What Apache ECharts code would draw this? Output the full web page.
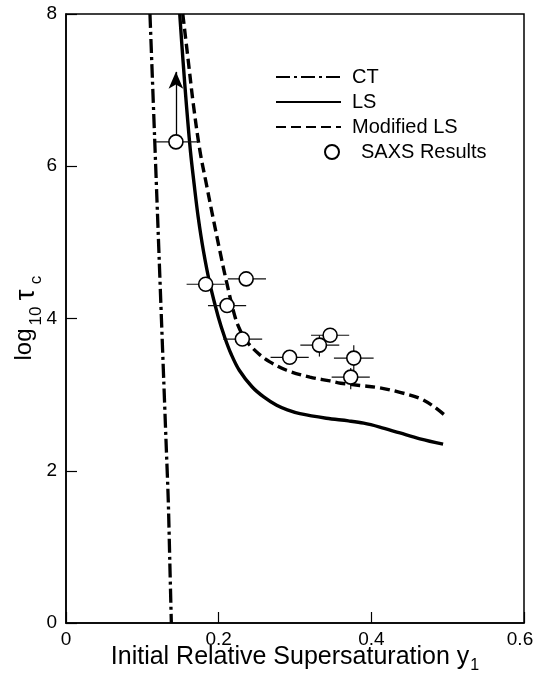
<!DOCTYPE html>
<html>
<head>
<meta charset="utf-8">
<script src="https://cdn.jsdelivr.net/npm/echarts@6/dist/echarts.min.js"></script>
<style>
html,body{margin:0;padding:0;background:#fff;}
#c{width:534px;height:674px;}
</style>
</head>
<body>
<div id="c"></div>
<script>
// ---- data ----
const xTicks = [0, 0.2, 0.4, 0.6];
const yTicks = [0, 2, 4, 6, 8];

const ctX = [0.110, 0.113, 0.116, 0.119, 0.122, 0.125, 0.128, 0.131, 0.134, 0.136, 0.138];
const ctY = [8.0, 7.2, 6.4, 5.6, 4.8, 4.0, 3.2, 2.4, 1.6, 0.8, 0.0];

const lsX = [0.149, 0.1532, 0.1578, 0.163, 0.1678, 0.1732, 0.1800, 0.1886, 0.1995, 0.2080, 0.2160, 0.2270, 0.2440, 0.2590, 0.2760, 0.2900, 0.3065, 0.341, 0.370, 0.390, 0.411, 0.4375, 0.4637, 0.494];
const lsY = [8.0, 7.4, 6.8, 6.2, 5.77, 5.33, 4.89, 4.45, 4.02, 3.75, 3.54, 3.32, 3.10, 2.97, 2.86, 2.80, 2.75, 2.69, 2.655, 2.625, 2.574, 2.496, 2.42, 2.35];

const modX = [0.153, 0.160, 0.167, 0.1755, 0.1838, 0.1925, 0.2015, 0.2110, 0.2215, 0.228, 0.2367, 0.252, 0.267, 0.289, 0.3196, 0.3458, 0.360, 0.385, 0.411, 0.4375, 0.4637, 0.481, 0.495];
const modY = [8.0, 7.4, 6.8, 6.2, 5.77, 5.33, 4.89, 4.45, 4.02, 3.85, 3.70, 3.54, 3.43, 3.32, 3.23, 3.18, 3.15, 3.12, 3.09, 3.03, 2.95, 2.85, 2.74];

const saxsX = [0.144, 0.183, 0.236, 0.211, 0.231, 0.293, 0.332, 0.346, 0.377, 0.373];
const saxsY = [6.32, 4.45, 4.52, 4.17, 3.73, 3.49, 3.65, 3.78, 3.48, 3.23];
const saxsXLow = [0.118, 0.158, 0.212, 0.186, 0.206, 0.268, 0.307, 0.321, 0.351, 0.348];
const saxsXHigh = [0.173, 0.208, 0.262, 0.236, 0.257, 0.318, 0.358, 0.371, 0.403, 0.398];
const saxsYLow = [null, null, null, null, null, null, 3.50, null, 3.32, 3.07];
const saxsYHigh = [null, null, null, null, null, null, 3.78, null, 3.65, 3.35];

const arrowX = 0.144;
const arrowY = [6.41, 7.24];

const seriesNames = ['CT', 'LS', 'Modified LS', 'SAXS Results'];

// ---- build ----
const zip = (a, b) => a.map((v, i) => [v, b[i]]);
const errData = saxsX.map((x, i) => [x, saxsY[i], saxsXLow[i], saxsXHigh[i],
  saxsYLow[i] == null ? NaN : saxsYLow[i], saxsYHigh[i] == null ? NaN : saxsYHigh[i]]);

const FONT = '"Liberation Sans", Arial, Helvetica, sans-serif';
const chart = echarts.init(document.getElementById('c'), null, {renderer: 'canvas'});
const xMax = xTicks[xTicks.length - 1];

const option = {
  backgroundColor: '#fff',
  animation: false,
  textStyle: {fontFamily: FONT, color: '#000'},
  grid: {left: 66, right: 10, top: 14, bottom: 51, show: true, containLabel: false, outerBoundsMode: 'none',
    borderColor: '#000', borderWidth: 1.5, backgroundColor: 'transparent'},
  legend: [{
    data: seriesNames.slice(0, 3),
    orient: 'vertical',
    left: 275, top: 67, padding: 0,
    itemWidth: 65, itemHeight: 14, itemGap: 5,
    itemStyle: {opacity: 0},
    textStyle: {fontSize: 20, color: '#000', fontFamily: FONT, lineHeight: 20, padding: [0, 0, 0, 6]},
    selectedMode: false
  }, {
    data: [seriesNames[3]],
    orient: 'vertical',
    left: 324, top: 142, padding: 0,
    itemWidth: 14, itemHeight: 14,
    textStyle: {fontSize: 20, color: '#000', fontFamily: FONT, lineHeight: 20, padding: [0, 0, 0, 17]},
    selectedMode: false
  }],
  xAxis: {
    type: 'value', min: xTicks[0], max: xMax, interval: 0.2,
    axisLine: {show: true, lineStyle: {color: '#000', width: 1.5}},
    axisTick: {show: true, inside: true, length: 11, lineStyle: {color: '#000', width: 1.2}},
    axisLabel: {fontSize: 19, color: '#000', fontFamily: FONT, margin: 7,
      formatter: v => (v === 0 ? '0' : (Math.abs(v - xMax) < 1e-9 ? '{r|' + v.toFixed(1) + '}' : v.toFixed(1))),
      rich: {r: {fontSize: 19, color: '#000', fontFamily: FONT, padding: [0, 8, 0, 0]}}},
    splitLine: {show: false},
    name: '{m|Initial Relative Supersaturation y}{s|1}',
    nameLocation: 'middle', nameGap: 22, nameMoveOverlap: false,
    nameTextStyle: {fontSize: 25, color: '#000', fontFamily: FONT,
      rich: {
        m: {fontSize: 25, fontFamily: FONT, color: '#000', lineHeight: 26, verticalAlign: 'top'},
        s: {fontSize: 16, fontFamily: FONT, color: '#000', lineHeight: 29, verticalAlign: 'bottom', padding: [0, 0, 0, 1]}
      }}
  },
  yAxis: {
    type: 'value', min: yTicks[0], max: yTicks[yTicks.length - 1], interval: 2,
    axisLine: {show: true, lineStyle: {color: '#000', width: 1.5}},
    axisTick: {show: true, inside: true, length: 11, lineStyle: {color: '#000', width: 1.2}},
    axisLabel: {fontSize: 19, color: '#000', fontFamily: FONT, margin: 9,
      formatter: v => String(v)},
    splitLine: {show: false},
    name: '{a|log}{s|10}{t|τ}{c|c}',
    nameLocation: 'middle', nameGap: 21, nameRotate: 90, nameMoveOverlap: false,
    nameTextStyle: {fontSize: 24, color: '#000', fontFamily: FONT,
      rich: {
        a: {fontSize: 24, fontFamily: FONT, color: '#000', lineHeight: 24, verticalAlign: 'top', width: 35},
        t: {fontSize: 28, fontFamily: FONT, color: '#000', lineHeight: 24, verticalAlign: 'top', width: 20, align: 'center'},
        s: {fontSize: 17, fontFamily: FONT, color: '#000', lineHeight: 33, verticalAlign: 'bottom', width: 22},
        c: {fontSize: 17, fontFamily: FONT, color: '#000', lineHeight: 33, verticalAlign: 'bottom', width: 10}
      }}
  },
  series: [
    {
      name: 'CT', type: 'line', data: zip(ctX, ctY), symbol: 'none', smooth: 0.3,
      lineStyle: {color: '#000', width: 3.3, type: [14, 4, 3, 4]}, itemStyle: {color: '#000'}, z: 2
    },
    {
      name: 'LS', type: 'line', data: zip(lsX, lsY), symbol: 'none', smooth: 0.35,
      lineStyle: {color: '#000', width: 3.4, type: 'solid'}, itemStyle: {color: '#000'}, z: 2
    },
    {
      name: 'Modified LS', type: 'line', data: zip(modX, modY), symbol: 'none', smooth: 0.35,
      lineStyle: {color: '#000', width: 3.4, type: [10, 5]}, itemStyle: {color: '#000'}, z: 2
    },
    {
      name: 'errbars', type: 'custom', data: errData, z: 3, silent: true,
      renderItem: function (params, api) {
        const y = api.value(1);
        const p1 = api.coord([api.value(2), y]);
        const p2 = api.coord([api.value(3), y]);
        const children = [{type: 'line', shape: {x1: p1[0], y1: p1[1], x2: p2[0], y2: p2[1]},
          style: {stroke: '#111', lineWidth: 1.2}}];
        const yl = api.value(4), yh = api.value(5);
        if (!isNaN(yl) && !isNaN(yh)) {
          const q1 = api.coord([api.value(0), yl]);
          const q2 = api.coord([api.value(0), yh]);
          children.push({type: 'line', shape: {x1: q1[0], y1: q1[1], x2: q2[0], y2: q2[1]},
            style: {stroke: '#111', lineWidth: 1.2}});
        }
        return {type: 'group', children: children};
      }
    },
    {
      name: 'SAXS Results', type: 'scatter', data: zip(saxsX, saxsY), symbol: 'circle', symbolSize: 14, z: 5,
      itemStyle: {color: '#fff', borderColor: '#000', borderWidth: 1.6, opacity: 1},
      markLine: {
        silent: true, symbol: ['none', 'arrow'], symbolSize: [11, 17], precision: 4,
        lineStyle: {color: '#000', width: 1.3, type: 'solid'}, label: {show: false},
        data: [[{coord: [arrowX, arrowY[0]]}, {coord: [arrowX, arrowY[1]]}]]
      }
    }
  ]
};
chart.setOption(option);
</script>
</body>
</html>
